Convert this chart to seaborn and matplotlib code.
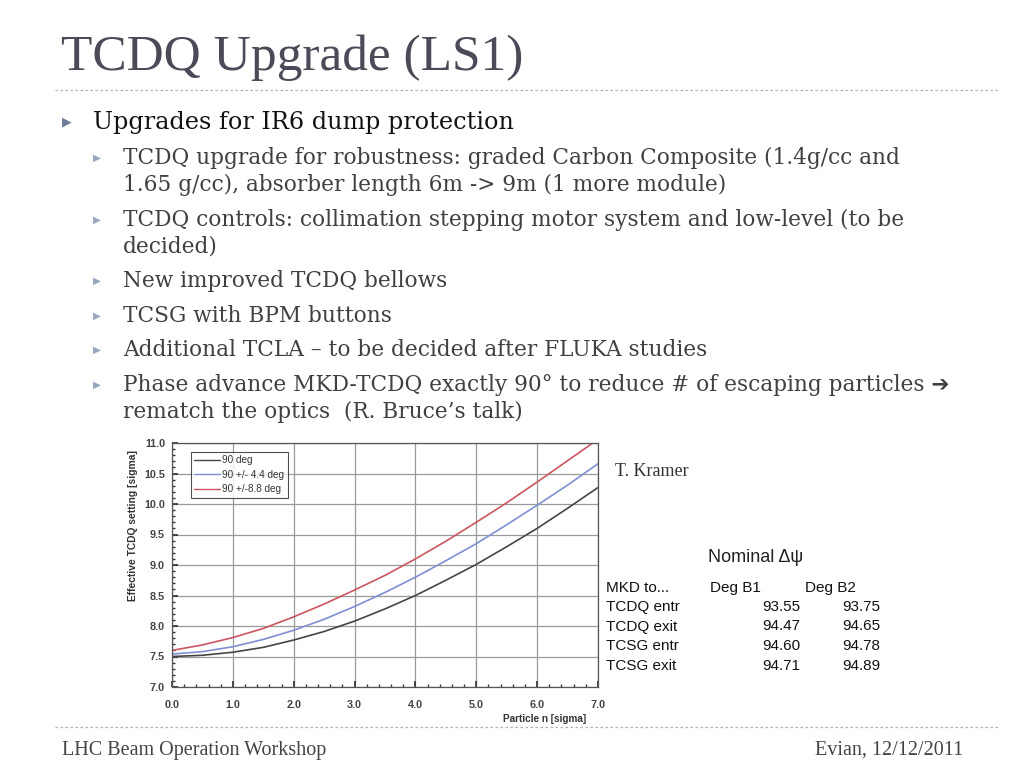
import numpy as np
import pandas as pd
import seaborn as sns
import matplotlib.pyplot as plt
from matplotlib.ticker import MultipleLocator, FormatStrFormatter

# curve values (Particle n [sigma] -> effective TCDQ setting)
particle_n = [0.0, 0.5, 1.0, 1.5, 2.0, 2.5, 3.0, 3.5, 4.0, 4.5, 5.0, 5.5, 6.0, 6.5, 7.0]
setting_90 = [7.50, 7.52, 7.57, 7.65, 7.77, 7.91, 8.08, 8.28, 8.50, 8.75, 9.01, 9.30, 9.60, 9.93, 10.27]
setting_44 = [7.54, 7.58, 7.66, 7.78, 7.93, 8.11, 8.32, 8.55, 8.80, 9.07, 9.35, 9.66, 9.98, 10.31, 10.66]
setting_88 = [7.60, 7.69, 7.81, 7.96, 8.15, 8.36, 8.59, 8.83, 9.10, 9.39, 9.70, 10.02, 10.36, 10.71, 11.06]
series_names = ['90 deg', '90 +/- 4.4 deg', '90 +/-8.8 deg']
series_colors = ['#454545', '#7e8fd2', '#cc5560']

# nominal phase advance table
table_rows = ['TCDQ entr', 'TCDQ exit', 'TCSG entr', 'TCSG exit']
deg_b1 = ['93.55', '94.47', '94.60', '94.71']
deg_b2 = ['93.75', '94.65', '94.78', '94.89']

bullets = [
    (1, ['Upgrades for IR6 dump protection']),
    (2, ['TCDQ upgrade for robustness: graded Carbon Composite (1.4g/cc and',
         '1.65 g/cc), absorber length 6m -> 9m (1 more module)']),
    (2, ['TCDQ controls: collimation stepping motor system and low-level (to be',
         'decided)']),
    (2, ['New improved TCDQ bellows']),
    (2, ['TCSG with BPM buttons']),
    (2, ['Additional TCLA \u2013 to be decided after FLUKA studies']),
    (2, ['Phase advance MKD-TCDQ exactly 90\u00b0 to reduce # of escaping particles \u2794',
         'rematch the optics  (R. Bruce\u2019s talk)']),
]

df = pd.DataFrame({
    'n': particle_n * 3,
    'setting': setting_90 + setting_44 + setting_88,
    'series': [s for s in series_names for _ in particle_n],
})

sns.set_theme(style='white')
plt.rcParams['font.family'] = ['DejaVu Serif', 'DejaVu Sans']

fig = plt.figure(figsize=(10.24, 7.68), dpi=100)
W, H = 1024, 768

def fx(px):
    return px / W

def fy(py):
    return 1 - py / H

# title and separators
fig.text(fx(61), fy(58), 'TCDQ Upgrade (LS1)', fontsize=37, color='#4a4a58',
         family='Liberation Serif', va='center', ha='left')
for yy in (90, 727):
    fig.add_artist(plt.Line2D([fx(55), fx(1000)], [fy(yy), fy(yy)], color='#b0b0b0',
                              lw=0.9, ls=(0, (2, 2))))

# bullet list
y = 122
for level, lines in bullets:
    if level == 1:
        bx, tx, size, col, bsize, bcol = 67, 93, 17.2, '#111111', 9, '#6f7d9c'
    else:
        bx, tx, size, col, bsize, bcol = 97, 123, 15.6, '#404040', 7.5, '#9aa7bf'
    fig.text(fx(bx), fy(y), '\u25b6', fontsize=bsize, color=bcol, family='DejaVu Sans',
             va='center', ha='center')
    for i, line in enumerate(lines):
        fig.text(fx(tx), fy(y + i * 27), line, fontsize=size, color=col, va='center', ha='left')
    y += 27 * (len(lines) - 1) + (36 if level == 1 else 34.5)

# chart
ax = fig.add_axes([fx(172), fy(687), fx(598 - 172), (687 - 443) / H])
sns.lineplot(data=df, x='n', y='setting', hue='series', palette=series_colors,
             hue_order=series_names, lw=1.2, ax=ax)
ax.set_xlim(0, 7)
ax.set_ylim(7, 11)
ax.xaxis.set_major_locator(MultipleLocator(1))
ax.xaxis.set_minor_locator(MultipleLocator(0.2))
ax.yaxis.set_major_locator(MultipleLocator(0.5))
ax.yaxis.set_minor_locator(MultipleLocator(0.1))
ax.xaxis.set_major_formatter(FormatStrFormatter('%.1f'))
ax.yaxis.set_major_formatter(FormatStrFormatter('%.1f'))
ax.grid(True, which='major', color='#9a9a9a', lw=0.9)
ax.tick_params(which='both', direction='in', colors='#333333', labelsize=7.8,
               left=True, bottom=True)
ax.tick_params(which='major', length=4)
ax.tick_params(which='minor', length=2.5)
ax.tick_params(axis='x', pad=9)
ax.tick_params(axis='y', pad=5)
for lab in ax.get_xticklabels() + ax.get_yticklabels():
    lab.set_family('Liberation Sans')
    lab.set_fontweight('bold')
    lab.set_color('#444444')
for sp in ax.spines.values():
    sp.set_color('#555555')
    sp.set_linewidth(0.9)
ax.set_xlabel('Particle n [sigma]', fontsize=7.2, family='Liberation Sans',
              fontweight='bold', color='#333333')
ax.xaxis.set_label_coords(0.875, -0.11)
ax.set_ylabel('Effective TCDQ setting [sigma]', fontsize=7.4, family='Liberation Sans',
              fontweight='bold', color='#333333')
ax.yaxis.set_label_coords(-0.08, 0.66)
leg = ax.legend(loc='upper left', bbox_to_anchor=(0.032, 0.985),
                frameon=True, fancybox=False, borderpad=0.35, labelspacing=0.45,
                handlelength=2.6, handletextpad=0.2, title=None,
                prop={'family': 'Liberation Sans', 'size': 7.2})
leg.get_frame().set_edgecolor('#222222')
leg.get_frame().set_linewidth(0.8)
for t in leg.get_texts():
    t.set_color('#333333')
for h in leg.get_lines():
    h.set_linewidth(1.0)

fig.text(fx(615), fy(471), 'T. Kramer', fontsize=13, color='#333333', va='center',
         family='Liberation Serif')

# table
tfont = 'Liberation Sans'
fig.text(fx(708), fy(557), 'Nominal \u0394\u03c8', fontsize=13, family=tfont,
         color='#222222', va='center')
fig.text(fx(606), fy(588), 'MKD to...', fontsize=11, family=tfont, color='#111111', va='center')
fig.text(fx(710), fy(588), 'Deg B1', fontsize=11, family=tfont, color='#111111', va='center')
fig.text(fx(805), fy(588), 'Deg B2', fontsize=11, family=tfont, color='#111111', va='center')
for i, name in enumerate(table_rows):
    yy = 607 + i * 19.5
    fig.text(fx(606), fy(yy), name, fontsize=11, family=tfont, color='#111111', va='center')
    fig.text(fx(800), fy(yy), deg_b1[i], fontsize=11, family=tfont, color='#111111',
             va='center', ha='right')
    fig.text(fx(880), fy(yy), deg_b2[i], fontsize=11, family=tfont, color='#111111',
             va='center', ha='right')

# footer
fig.text(fx(62), fy(750), 'LHC Beam Operation Workshop', fontsize=14.5, color='#444444',
         family='Liberation Serif', va='center')
fig.text(fx(963), fy(750), 'Evian, 12/12/2011', fontsize=14.5, color='#444444',
         family='Liberation Serif', va='center', ha='right')

fig.savefig('out.png', dpi=100, facecolor='white')
